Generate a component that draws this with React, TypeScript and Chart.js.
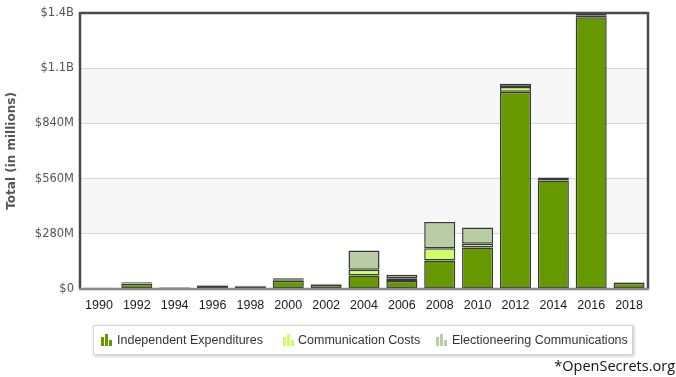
import React, { useEffect, useRef } from "react";
import { Chart, registerables } from "chart.js";

Chart.register(...registerables);

const years = ["1990", "1992", "1994", "1996", "1998", "2000", "2002", "2004", "2006", "2008", "2010", "2012", "2014", "2016", "2018"];
const independentExpenditures = [3, 26, 6, 16, 10, 42, 20, 68, 40, 145, 210, 1000, 550, 1378, 32];
const communicationCosts = [1, 3, 1, 2, 2, 5, 3, 30, 15, 62, 20, 24, 8, 10, 1];
const electioneeringComms = [2, 5, 3, 4, 4, 8, 3, 97, 17, 133, 82, 17, 8, 8, 2];
const yTicks = [0, 280, 560, 840, 1120, 1400];
const seriesNames = ["Independent Expenditures", "Communication Costs", "Electioneering Communications"];
const seriesColors = ["#669900", "#ccff66", "#b8cca6"];

function fmt(v: number): string {
  if (v === 0) return "$0";
  if (v >= 1000) return "$" + (v / 1000).toFixed(1) + "B";
  return "$" + v + "M";
}

const framePlugin = {
  id: "frame",
  beforeDraw(chart: any) {
    const { ctx, chartArea } = chart;
    const y = chart.scales.y;
    ctx.save();
    ctx.fillStyle = "#f7f7f7";
    for (let i = 1; i < yTicks.length - 1; i += 2) {
      const top = y.getPixelForValue(yTicks[i + 1]);
      const bot = y.getPixelForValue(yTicks[i]);
      ctx.fillRect(chartArea.left, top, chartArea.right - chartArea.left, bot - top);
    }
    ctx.restore();
  },
  afterDatasetsDraw(chart: any) {
    const { ctx, chartArea } = chart;
    ctx.save();
    ctx.strokeStyle = "#4a4a4a";
    ctx.lineWidth = 2.5;
    ctx.beginPath();
    ctx.moveTo(chartArea.left, chartArea.bottom);
    ctx.lineTo(chartArea.left, chartArea.top);
    ctx.lineTo(chartArea.right, chartArea.top);
    ctx.lineTo(chartArea.right, chartArea.bottom);
    ctx.stroke();
    ctx.strokeStyle = "#8a8a8a";
    ctx.lineWidth = 2.5;
    ctx.beginPath();
    ctx.moveTo(chartArea.left - 1, chartArea.bottom);
    ctx.lineTo(chartArea.right + 1, chartArea.bottom);
    ctx.stroke();
    ctx.restore();
  },
};

function Icon({ color }: { color: string }) {
  const bar = (h: number) => (
    <div style={{ width: 3, height: h, background: color, marginRight: 1 }} />
  );
  return (
    <div style={{ display: "flex", alignItems: "flex-end", height: 12, width: 12 }}>
      {bar(9)}
      {bar(12)}
      {bar(6)}
    </div>
  );
}

export default function App() {
  const ref = useRef<HTMLCanvasElement | null>(null);
  useEffect(() => {
    if (!ref.current) return;
    const datasets = [independentExpenditures, communicationCosts, electioneeringComms].map((d, i) => ({
      label: seriesNames[i],
      data: d,
      backgroundColor: seriesColors[i],
      borderColor: "#383838",
      borderWidth: 1.5,
      borderSkipped: false as any,
      barPercentage: 0.82,
      categoryPercentage: 1,
    }));
    const chart = new Chart(ref.current, {
      type: "bar",
      data: { labels: years, datasets },
      plugins: [framePlugin],
      options: {
        animation: false,
        responsive: false,
        maintainAspectRatio: false,
        layout: { padding: { left: 0, top: 8, right: 28, bottom: 0 } },
        plugins: { legend: { display: false }, tooltip: { enabled: false } },
        scales: {
          x: {
            stacked: true,
            grid: { display: false },
            border: { display: false },
            ticks: {
              color: "#1a1a1a",
              font: { family: "'Liberation Sans Narrow', 'Arial Narrow', 'Liberation Sans', sans-serif", size: 12.5 },
              padding: 1,
              maxRotation: 0,
              autoSkip: false,
            },
            afterFit: (s: any) => { s.height = 88; },
          },
          y: {
            stacked: true,
            min: 0,
            max: 1400,
            afterBuildTicks: (s: any) => { s.ticks = yTicks.map((v) => ({ value: v })); },
            grid: { color: "#d6d6d6", lineWidth: 1, drawTicks: false },
            border: { display: false },
            ticks: {
              color: "#555",
              font: { family: "'DejaVu Sans', sans-serif", size: 11.5 },
              padding: 6,
              callback: (v: any) => fmt(Number(v)),
            },
            title: {
              display: true,
              text: "Total (in millions)",
              color: "#555",
              font: { family: "'DejaVu Sans', sans-serif", size: 12, weight: "bold" },
              padding: { top: 5, bottom: 0 },
            },
            afterFit: (s: any) => { s.width = 80; },
          },
        },
      },
    });
    return () => chart.destroy();
  }, []);

  const legendItems = [
    { x: 101, tx: 117 },
    { x: 283, tx: 298 },
    { x: 436, tx: 452 },
  ];

  return (
    <div style={{ position: "absolute", left: 0, top: 0, width: 676, height: 377, background: "#fff", overflow: "hidden" }}>
      <canvas ref={ref} width={676} height={377} style={{ position: "absolute", left: 0, top: 0, width: 676, height: 377 }} />
      <div
        style={{
          position: "absolute",
          left: 93,
          top: 325,
          width: 540,
          height: 30,
          border: "1px solid #d4d4d4",
          boxShadow: "1px 1px 3px rgba(0,0,0,0.25)",
          background: "#fff",
          boxSizing: "border-box",
        }}
      />
      {legendItems.map((it, i) => (
        <React.Fragment key={i}>
          <div style={{ position: "absolute", left: it.x, top: 334 }}>
            <Icon color={seriesColors[i]} />
          </div>
          <div
            style={{
              position: "absolute",
              left: it.tx,
              top: 332,
              fontFamily: "'Liberation Sans', Arial, sans-serif",
              fontSize: 12.5,
              color: "#333",
              whiteSpace: "nowrap",
              lineHeight: "16px",
            }}
          >
            {seriesNames[i]}
          </div>
        </React.Fragment>
      ))}
      <div
        style={{
          position: "absolute",
          right: 1,
          top: 357,
          fontFamily: "'Open Sans', sans-serif",
          fontSize: 14.5,
          color: "#111",
          whiteSpace: "nowrap",
          lineHeight: "18px",
        }}
      >
        *OpenSecrets.org
      </div>
    </div>
  );
}
